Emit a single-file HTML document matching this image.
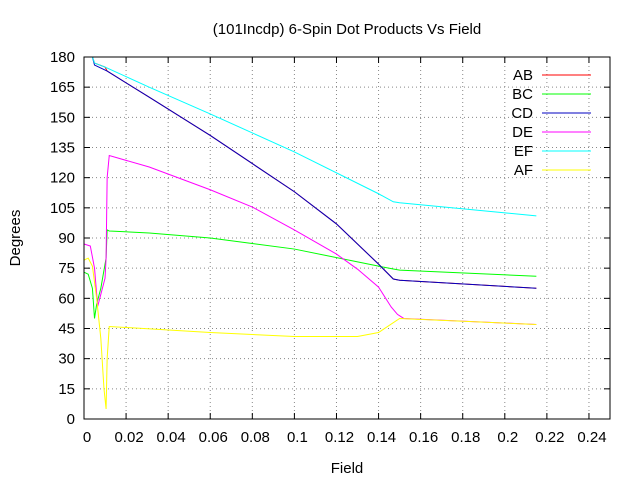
<!DOCTYPE html>
<html><head><meta charset="utf-8"><style>
body{margin:0;background:#fff}
svg text{font-family:"Liberation Sans","DejaVu Sans",sans-serif;font-size:15px;fill:#000}
</style></head><body>
<svg id="chart" width="640" height="480" xmlns="http://www.w3.org/2000/svg">
<text x="347" y="34" text-anchor="middle">(101Incdp) 6-Spin Dot Products Vs Field</text>
<text x="347" y="473" text-anchor="middle">Field</text>
<text x="20" y="238" text-anchor="middle" transform="rotate(-90 20 238)">Degrees</text>
<g id="grid"></g><g id="series"></g><g id="legend"></g>
<rect x="84" y="57" width="526" height="362" fill="none" stroke="#000" stroke-width="1"/>
</svg>
<script>
const xTicks=[0,0.02,0.04,0.06,0.08,0.1,0.12,0.14,0.16,0.18,0.2,0.22,0.24];
const yTicks=[0,15,30,45,60,75,90,105,120,135,150,165,180];
const names=["AB","BC","CD","DE","EF","AF"];
const colors=["#ff0000","#00ff00","#0000c0","#ff00ff","#00ffff","#ffff00"];
const abX=[0,0.004,0.005,0.01,0.011,0.031,0.06,0.08,0.1,0.12,0.14,0.147,0.15,0.215];
const abY=[180,180,177,175,173,160,141,127,113,97,77,69.6,69,65];
const bcX=[0,0.002,0.004,0.005,0.006,0.008,0.0105,0.011,0.012,0.031,0.06,0.1,0.14,0.147,0.15,0.215];
const bcY=[73,72,65,50,57,65,80,94,93.5,92.5,90,84.5,76,74.6,74,71];
const cdX=[0,0.004,0.005,0.011,0.031,0.06,0.08,0.1,0.12,0.14,0.147,0.15,0.215];
const cdY=[180,180,176,173,160,141,127,113,97,77,69.6,69,65];
const deX=[0,0.003,0.005,0.0065,0.008,0.01,0.0105,0.011,0.012,0.031,0.06,0.08,0.1,0.12,0.13,0.14,0.146,0.149,0.152,0.215];
const deY=[87,86,75,56,62,70,80,120,131,125.3,114,105.4,94,82,74.5,65.6,55.7,52,50,47];
const efX=[0,0.004,0.005,0.01,0.031,0.06,0.1,0.14,0.147,0.15,0.215];
const efY=[180,180,177,175,165,151.7,132.8,112,108,107.5,101];
const afX=[0,0.002,0.004,0.006,0.008,0.0095,0.0105,0.011,0.012,0.06,0.1,0.13,0.14,0.15,0.215];
const afY=[79,80,76,60,40,15,5,30,46,43,41,41,43,50,47];
const xs=[abX,bcX,cdX,deX,efX,afX], ys=[abY,bcY,cdY,deY,efY,afY];
const X0=84,X1=610,Y0=419,Y1=57;
const sx=v=>X0+v/0.25*(X1-X0), sy=v=>Y0-v/180*(Y0-Y1);
const NS="http://www.w3.org/2000/svg";
const grid=document.getElementById('grid'),ser=document.getElementById('series'),leg=document.getElementById('legend');
function mk(tag,at,parent){const e=document.createElementNS(NS,tag);for(const k in at)e.setAttribute(k,at[k]);parent.appendChild(e);return e;}
xTicks.forEach(t=>{const x=sx(t);
 if(t>0){const g=mk('line',{x1:x,x2:x,y1:Y0,y2:Y1,stroke:'#888','stroke-dasharray':'1,3'},grid);}
 mk('line',{x1:x,x2:x,y1:Y0,y2:Y0-6,stroke:'#000'},grid);mk('line',{x1:x,x2:x,y1:Y1,y2:Y1+6,stroke:'#000'},grid);
 const l=mk('text',{x:x+3,y:Y0+23,'text-anchor':'middle'},grid);l.textContent=String(t);
 });
yTicks.forEach(t=>{const y=sy(t);
 if(t>0&&t<180){const g=mk('line',{x1:X0,x2:X1,y1:y,y2:y,stroke:'#888','stroke-dasharray':'1,3'},grid);}
 mk('line',{x1:X0,x2:X0+6,y1:y,y2:y,stroke:'#000'},grid);mk('line',{x1:X1,x2:X1-6,y1:y,y2:y,stroke:'#000'},grid);
 const l=mk('text',{x:X0-9,y:y+5,'text-anchor':'end'},grid);l.textContent=String(t);
 });
names.forEach((n,i)=>{
 const p=mk('polyline',{points:xs[i].map((v,j)=>sx(v)+','+sy(ys[i][j])).join(' '),fill:'none',stroke:colors[i],'stroke-width':1},ser);
 
 const ly=75+i*19;
 const t=mk('text',{x:533,y:ly+5,'text-anchor':'end'},leg);t.textContent=n;
 
 const s=mk('line',{x1:542,x2:591,y1:ly,y2:ly,stroke:colors[i]},leg);
 });
</script>
</body></html>
